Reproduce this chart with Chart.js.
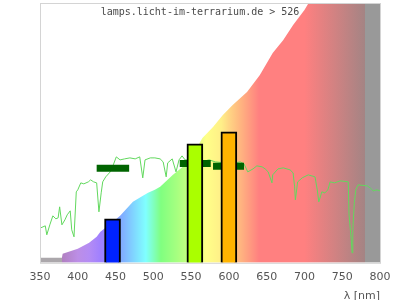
<!DOCTYPE html>
<html>
<head>
<meta charset="utf-8">
<script src="https://cdn.jsdelivr.net/npm/chart.js@4"></script>
<style>
  body { margin: 0; background: #fff; }
</style>
</head>
<body>
<canvas id="myChart" width="400" height="300"></canvas>
<script>
//---------------------------------------------------------------------------
// x axis tick labels (nm)
const tickValues = [350, 400, 450, 500, 550, 600, 650, 700, 750, 800];

// reference curve behind everything (coloured by wavelength)
const refWavelengths = [350, 379, 380, 400, 415, 425, 430, 445, 456, 473, 484, 493, 502, 509, 526, 542, 552, 565, 579, 592, 605, 624, 641, 658, 672, 685, 700, 715, 740, 770, 800];
const refLevels      = [5, 5, 9, 14, 20, 26, 31, 40, 47, 61, 66, 70, 73, 76, 88, 98, 108, 125, 136, 148, 158, 171, 188, 210, 223, 238, 253, 272, 308, 350, 395];

// measured lamp spectrum (green line)
const specWavelengths = [351, 357, 359, 363, 367, 371, 374, 376, 379, 383, 386, 390, 392, 395, 398, 400, 404, 408, 414, 417, 421, 425, 428, 431, 433, 437, 443, 447, 451, 456, 462, 469, 476, 482, 486, 489, 496, 502, 509, 513, 517, 519, 525, 530, 534, 538, 542, 555, 562, 574, 582, 595, 608, 615, 620, 625, 632, 637, 644, 648, 652, 657, 658, 665, 672, 681, 685, 687, 688, 691, 697, 705, 714, 717, 719, 723, 727, 731, 734, 740, 747, 758, 759, 762, 763, 764, 766, 768, 771, 783, 787, 791, 796, 800];
const specLevels      = [35, 37, 28, 38, 47, 44, 45, 56, 38, 43, 48, 52, 33, 26, 71, 73, 80, 79, 81, 83, 81, 80, 51, 70, 81, 86, 91, 98, 106, 103, 104, 105, 104, 106, 85, 103, 105, 105, 104, 101, 86, 100, 104, 91, 103, 107, 103, 103, 101, 103, 101, 100, 100, 101, 99, 91, 94, 97, 96, 94, 91, 80, 88, 94, 95, 93, 90, 76, 63, 81, 85, 88, 86, 73, 61, 71, 70, 73, 81, 80, 82, 81, 48, 23, 10, 33, 60, 73, 78, 77, 75, 72, 73, 72];

// band bars (blue, green, red)
const barCenters = [446, 555, 600];
const barLevels  = [44, 119, 131];

// band averages (dark green dashes)
const dashFrom   = [425, 535, 579];
const dashTo     = [468, 576, 620];
const dashLevels = [94.5, 99.5, 96.5];

// colour stops of the background spectrum
const stopWavelengths = [350, 378.9, 379, 400, 415, 430, 445, 460, 475, 490, 500, 510, 530, 550, 570, 590, 600, 612, 625, 640, 700, 780, 780.5, 800];
const stopColors = ['#aba7ab', '#aba7ab', '#b080c0', '#bc8ee6', '#b48cf4', '#a080ff', '#8890ff', '#80b0ff', '#80d8ff', '#80ffff', '#80ffc0', '#80ff80', '#a4ff80', '#ccff80', '#ffff88', '#ffef88', '#ffd684', '#ffbc80', '#ffa080', '#ff8080', '#ff8080', '#a48484', '#999999', '#999999'];

const barColors = ['#0022ff', '#aaff00', '#ffb400'];

//---------------------------------------------------------------------------
const spectrumFill = (context) => {
    const chart = context.chart;
    const x = chart.scales.x;
    if (!chart.chartArea || !x) return '#ff8080';
    const g = chart.ctx.createLinearGradient(x.getPixelForValue(350), 0, x.getPixelForValue(800), 0);
    stopWavelengths.forEach((w, i) => {
        g.addColorStop((w - 350) / 450, stopColors[i]);
    });
    return g;
};

// frame round the plot, header text and axis title
const framePlugin = {
    id: 'frame',
    afterDatasetsDraw(chart) {
        const { ctx, chartArea } = chart;
        ctx.save();
        ctx.strokeStyle = '#d4d4d4';
        ctx.lineWidth = 1;
        ctx.strokeRect(chartArea.left + 0.5, chartArea.top + 0.5, chartArea.right - chartArea.left, chartArea.bottom - chartArea.top);
        ctx.fillStyle = '#4a4a4a';
        ctx.font = '10px "DejaVu Sans Mono", monospace';
        ctx.textAlign = 'center';
        ctx.textBaseline = 'alphabetic';
        ctx.fillText('lamps.licht-im-terrarium.de > 526', chart.width / 2, 15);
        ctx.fillStyle = '#555';
        ctx.font = '11px "DejaVu Sans"';
        ctx.textAlign = 'right';
        ctx.fillText('λ [nm]', chartArea.right, 299);
        ctx.restore();
    }
};

const datasets = [];

datasets.push({
    type: 'bar',
    data: barCenters.map((x, i) => ({ x: x, y: barLevels[i] })),
    backgroundColor: barColors,
    borderColor: '#000',
    borderWidth: 2,
    barThickness: 16,
    order: 1
});

dashFrom.forEach((from, i) => {
    datasets.push({
        type: 'line',
        data: [{ x: from, y: dashLevels[i] }, { x: dashTo[i], y: dashLevels[i] }],
        borderColor: '#006400',
        borderWidth: 7,
        borderCapStyle: 'butt',
        pointRadius: 0,
        order: 2
    });
});

datasets.push({
    type: 'line',
    data: specWavelengths.map((x, i) => ({ x: x, y: specLevels[i] })),
    borderColor: '#62d85e',
    borderWidth: 1,
    pointRadius: 0,
    tension: 0,
    order: 3
});

datasets.push({
    type: 'line',
    data: refWavelengths.map((x, i) => ({ x: x, y: refLevels[i] })),
    borderWidth: 0,
    borderColor: 'rgba(0,0,0,0)',
    backgroundColor: spectrumFill,
    fill: 'origin',
    pointRadius: 0,
    tension: 0,
    order: 4
});

var ctx = document.getElementById('myChart');
new Chart(ctx, {
    type: 'bar',
    data: { datasets: datasets },
    plugins: [framePlugin],
    options: {
        responsive: false,
        animation: false,
        layout: { padding: { left: 40, right: 20, top: 3, bottom: 8 } },
        plugins: {
            legend: { display: false },
            tooltip: { enabled: false }
        },
        scales: {
            x: {
                type: 'linear',
                min: 350,
                max: 800,
                offset: false,
                afterBuildTicks: (scale) => {
                    scale.ticks = tickValues.map(v => ({ value: v }));
                },
                grid: { display: false, drawTicks: false, offset: false },
                border: { display: false },
                ticks: {
                    padding: 8,
                    color: '#555',
                    font: { family: 'DejaVu Sans', size: 11 },
                    maxRotation: 0,
                    autoSkip: false
                }
            },
            y: {
                display: false,
                min: 0,
                max: 260
            }
        }
    }
});
</script>
</body>
</html>
